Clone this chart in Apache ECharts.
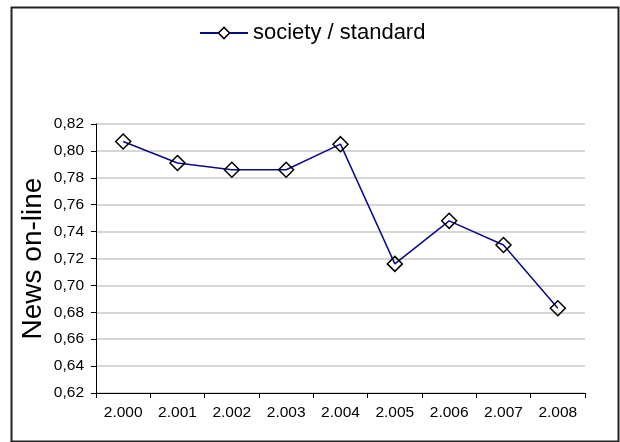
<!DOCTYPE html>
<html>
<head>
<meta charset="utf-8">
<script src="https://cdn.jsdelivr.net/npm/echarts@6/dist/echarts.min.js"></script>
<style>
html,body{margin:0;padding:0;background:#fff;}
#chart{width:620px;height:442px;}
</style>
</head>
<body>
<div id="chart"></div>
<script>
var categories = ['2.000','2.001','2.002','2.003','2.004','2.005','2.006','2.007','2.008'];
var seriesName = 'society / standard';
var values = [0.807, 0.791, 0.786, 0.786, 0.805, 0.716, 0.748, 0.730, 0.683];
var yMin = 0.62, yMax = 0.82, yStep = 0.02;
var yTitle = 'News on-line';

var chart = echarts.init(document.getElementById('chart'), null, {renderer:'canvas'});
chart.setOption({
  animation:false,
  backgroundColor:'#ffffff',
  graphic:[{
    type:'rect', left:9, top:5, z:-1,
    shape:{width:607, height:434},
    style:{fill:'none', stroke:'#222', lineWidth:2}
  }],
  legend:{
    left:194, top:17,
    itemWidth:48, itemHeight:14,
    textStyle:{fontFamily:'Liberation Sans', fontSize:22, color:'#000'},
    data:[{name:seriesName, itemStyle:{color:'#fff', borderColor:'#000', borderWidth:1.5}}]
  },
  grid:{left:96, right:35, top:124, bottom:49, containLabel:false},
  xAxis:{
    type:'category', data:categories, boundaryGap:true,
    axisLine:{lineStyle:{color:'#000', width:1}},
    axisTick:{show:true, length:5, alignWithLabel:false, lineStyle:{color:'#000'}},
    axisLabel:{margin:12, fontFamily:'Liberation Sans', fontSize:15.5, color:'#000', interval:0},
    splitLine:{show:false}
  },
  yAxis:{
    type:'value', min:yMin, max:yMax, interval:yStep,
    name:yTitle, nameLocation:'middle', nameRotate:90, nameGap:49, nameMoveOverlap:false,
    nameTextStyle:{fontFamily:'Liberation Sans', fontSize:28, color:'#000'},
    axisLine:{show:true, lineStyle:{color:'#000', width:1}},
    axisTick:{show:true, length:5, lineStyle:{color:'#000'}},
    axisLabel:{margin:12, fontFamily:'Liberation Sans', fontSize:15.5, color:'#000',
      formatter:function(v){return v.toFixed(2).replace('.',',');}},
    splitLine:{show:true, lineStyle:{color:'#c8c8c8', width:1.5}}
  },
  series:[{
    name:seriesName, type:'line', data:values,
    symbol:'diamond', symbolSize:15,
    lineStyle:{color:'#0a0a8c', width:1.5},
    itemStyle:{color:'rgba(255,255,255,0)', borderColor:'#000', borderWidth:1.5}
  }]
});
</script>
</body>
</html>
